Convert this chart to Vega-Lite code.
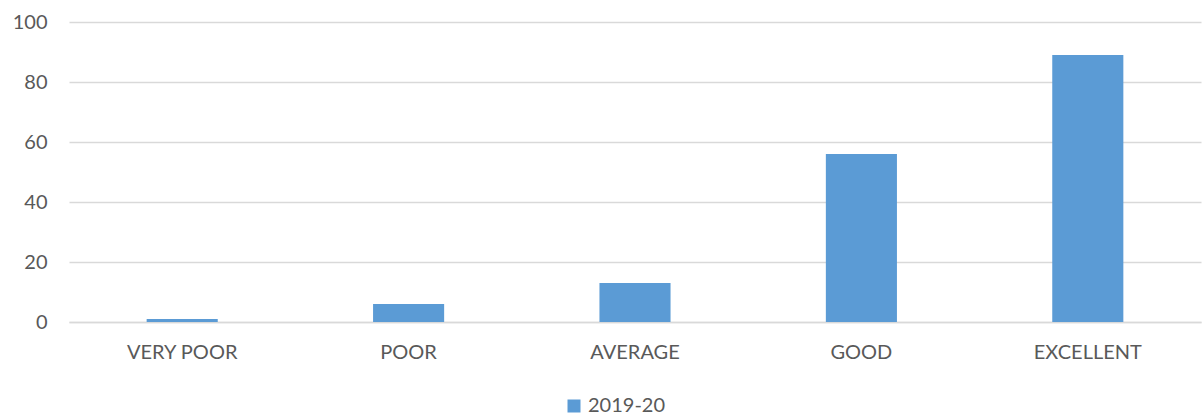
{
  "$schema": "https://vega.github.io/schema/vega-lite/v6.json",
  "width": 1132,
  "height": 300,
  "autosize": {"type": "none"},
  "padding": {"left": 69, "top": 22, "right": 3, "bottom": 98},
  "background": "white",
  "config": {
    "view": {"stroke": null},
    "font": "Lato",
    "axis": {"labelFont": "Lato", "labelColor": "#595959", "labelFontSize": 20},
    "legend": {"labelFont": "Lato", "labelColor": "#595959", "labelFontSize": 20}
  },
  "data": {
    "values": [
      {"rating": "VERY POOR", "series": "2019-20", "value": 1},
      {"rating": "POOR", "series": "2019-20", "value": 6},
      {"rating": "AVERAGE", "series": "2019-20", "value": 13},
      {"rating": "GOOD", "series": "2019-20", "value": 56},
      {"rating": "EXCELLENT", "series": "2019-20", "value": 89}
    ]
  },
  "mark": {"type": "bar", "color": "#5B9BD5"},
  "encoding": {
    "x": {
      "field": "rating",
      "type": "nominal",
      "sort": null,
      "scale": {"paddingInner": 0.686, "paddingOuter": 0.343},
      "axis": {
        "title": null,
        "labelAngle": 0,
        "ticks": false,
        "domain": true,
        "domainColor": "#D9D9D9",
        "domainWidth": 1.5,
        "labelPadding": 20
      }
    },
    "y": {
      "field": "value",
      "type": "quantitative",
      "scale": {"domain": [0, 100], "nice": false},
      "axis": {
        "title": null,
        "values": [0, 20, 40, 60, 80, 100],
        "ticks": false,
        "domain": false,
        "grid": true,
        "gridColor": "#D9D9D9",
        "gridWidth": 1.5,
        "labelPadding": 22
      }
    },
    "fill": {
      "field": "series",
      "type": "nominal",
      "scale": {"range": ["#5B9BD5"]},
      "legend": {
        "title": null,
        "orient": "none",
        "legendX": 495,
        "legendY": 374,
        "symbolType": "square",
        "symbolSize": 169,
        "symbolStrokeWidth": 0,
        "labelOffset": 4
      }
    }
  }
}
